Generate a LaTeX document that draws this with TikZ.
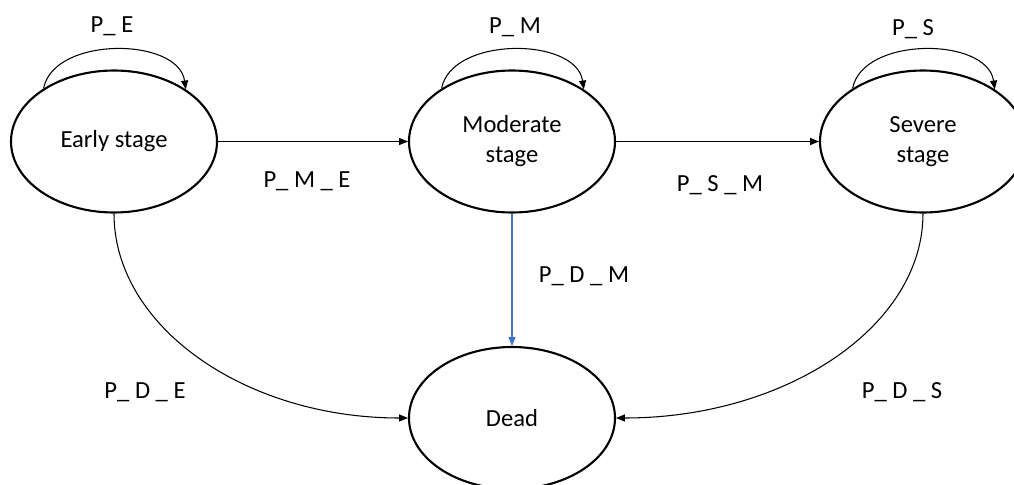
\documentclass[tikz,border=0pt]{standalone}
\usepackage{fontspec}
\setmainfont{Carlito}
\usepackage{tikz}
\usetikzlibrary{shapes.geometric, arrows.meta}
\definecolor{linkblue}{HTML}{4472C4}

\begin{document}
\begin{tikzpicture}[>={Triangle[length=5pt,width=4pt]}, line width=0.6pt,
    stage/.style={draw, ellipse, line width=1.2pt, minimum width=4.12cm, minimum height=2.84cm, inner sep=0pt, align=center, font=\fontsize{14}{17}\selectfont},
    lbl/.style={font=\fontsize{14}{17}\selectfont}]
          \useasboundingbox (0,0) rectangle (20.28,-9.7);
          \clip (0,0) rectangle (20.28,-9.7);
          \node [stage] (E) at (2.28,-2.83) {Early stage};
          \node [stage] (M) at (10.24,-2.83) {Moderate\\stage};
          \node [stage] (S) at (18.46,-2.83) {Severe\\stage};
          \node [stage] (D) at (10.24,-8.36) {Dead};
          % self loops
          \draw [->] (E.143) .. controls +(0.2,1.05) and +(-0.15,1.05) .. (E.36);
          \draw [->] (M.143) .. controls +(0.2,1.05) and +(-0.15,1.05) .. (M.36);
          \draw [->] (S.143) .. controls +(0.2,1.05) and +(-0.15,1.05) .. (S.36);
          \draw [->] (E) -- (M);
          \draw [->] (M) -- (S);
          \draw [->, linkblue] (M) -- (D);
          \draw [->] (E.south) .. controls +(0,-2.26) and +(-3.26,0) .. (D.west);
          \draw [->] (S.south) .. controls +(0,-2.26) and +(3.4,0) .. (D.east);
          \node [lbl] (pe) at (2.24,-0.52) {P\_ E};
          \node [lbl] (pm) at (10.3,-0.54) {P\_ M};
          \node [lbl] (ps) at (18.26,-0.58) {P\_ S};
          \node [lbl] (pme) at (6.14,-3.62) {P\_ M \_ E};
          \node [lbl] (psm) at (14.4,-3.7) {P\_ S \_ M};
          \node [lbl] (pdm) at (11.68,-5.52) {P\_ D \_ M};
          \node [lbl] (pde) at (2.9,-7.84) {P\_ D \_ E};
          \node [lbl] (pds) at (18.04,-7.84) {P\_ D \_ S};
        \end{tikzpicture}
\end{document}
